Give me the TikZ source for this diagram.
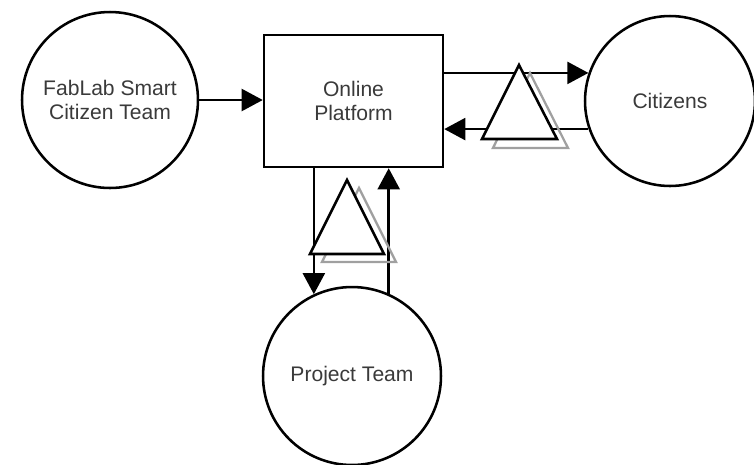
\documentclass[tikz,border=0pt]{standalone}
\usepackage{fontspec}
\setmainfont{Liberation Sans}
\usetikzlibrary{arrows.meta, positioning, calc}

\definecolor{txtgray}{HTML}{3A3A3A}
\definecolor{shadowgray}{HTML}{A0A0A0}

\begin{document}
\begin{tikzpicture}[x=0.02cm, y=-0.02cm, line width=1.45pt,
  actor/.style={circle, draw, minimum size=3.52cm, inner sep=0pt, align=center,
    text=txtgray, font=\fontsize{12}{13.5}\selectfont},
  platform/.style={rectangle, draw, minimum width=3.58cm, minimum height=2.64cm,
    align=center, text=txtgray, font=\fontsize{12}{13.5}\selectfont},
  flow/.style={-{Triangle[length=12pt,width=12.5pt]}},
  filt/.style={draw, fill=white, line join=miter},
  filtshadow/.style={draw=shadowgray, line width=1.3pt, line join=miter}]
\useasboundingbox (0,0) rectangle (754,464);

% Entities
\node[actor] (fab) at (110,100) {FabLab Smart\\Citizen Team};
\node[platform] (plat) at (353.5,101) {Online\\Platform};
\node[actor, minimum size=3.4cm] (cit) at (670,101) {Citizens};
\node[actor, minimum size=3.56cm] (proj) at (352,376) {Project Team};

% Flows
\draw[flow] (fab.east) -- (plat.west |- fab.east);
\draw[flow] (plat.east |- cit.161) -- (cit.161);
\draw[flow] (cit.199) -- (plat.east |- cit.199);
\draw[flow] (plat.south -| proj.115) -- (proj.115);
\draw[flow] (proj.66) -- (plat.south -| proj.66);

% Triangles
\draw[filtshadow] (530,73) -- (568,148) -- (493,148) -- cycle;
\draw[filt] (519,65) -- (557,139) -- (482,139) -- cycle;
\draw[filtshadow] (359,188) -- (396,262) -- (322,262) -- cycle;
\draw[filt] (347,180) -- (384,254) -- (310,254) -- cycle;
\end{tikzpicture}
\end{document}
